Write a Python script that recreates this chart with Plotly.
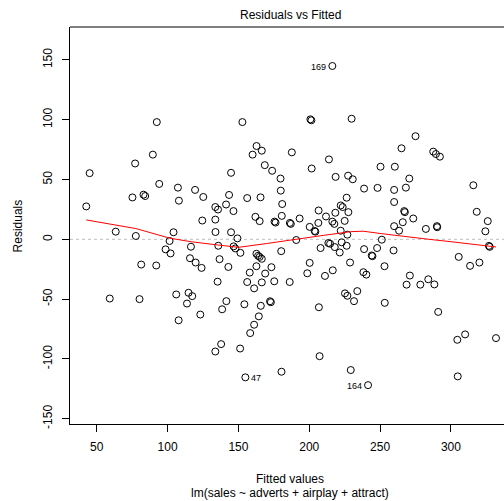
import plotly.graph_objects as go

# Fitted values and residuals of lm(sales ~ adverts + airplay + attract)
fitted = [
    92.4, 89.6, 77.1,
    216.3, 152.8, 200.8, 201.5, 229.9, 162.8, 160.0, 166.5, 187.7, 213.9,
    275.0, 265.1, 287.5, 289.4, 292.2, 250.3, 260.4,
    45.0, 94.1, 107.3, 119.4, 75.2, 83.0, 84.2, 125.2, 108.0, 42.6,
    124.5, 63.4, 77.6, 104.2, 101.4, 116.5, 98.6, 102.1, 115.8, 119.8,
    124.0, 81.4, 92.0, 59.2, 80.2, 106.1, 114.8, 117.4, 113.7,
    123.1, 107.8,
    141.5, 138.5, 154.2, 165.8, 172.3, 172.9, 206.8, 164.4, 161.1, 158.3,
    137.8, 133.7, 151.2, 154.9, 180.4, 207.3, 229.3,
    231.6, 253.3, 291.0, 304.5, 310.0, 331.8, 241.5, 304.8,
    168.6, 173.8, 201.7, 144.8, 179.7, 218.6, 227.4, 230.7, 179.9, 143.4,
    156.2, 165.6, 226.4, 141.3, 180.9, 133.7, 135.6, 146.5, 222.2, 223.6,
    227.6, 206.6, 162.0, 165.0, 180.6, 175.5, 176.2, 186.3, 187.0, 193.2,
    211.8, 218.4, 206.4, 216.3, 217.7, 225.0, 133.7, 200.3, 203.8, 204.3,
    133.8, 144.8, 149.3, 190.8, 226.9, 222.2, 135.8, 146.6, 147.8, 151.4,
    162.7, 163.9, 165.0, 166.5, 180.2, 208.0, 213.5, 214.7, 218.0, 221.5,
    222.9, 226.4, 136.7, 142.9, 162.7, 173.3, 200.3, 198.6, 216.6, 211.1,
    228.8, 158.0, 168.9, 135.3, 156.2, 166.5, 175.3, 186.2, 161.1, 225.2,
    226.9,
    270.6, 238.7, 248.2, 259.9, 268.2, 315.8, 259.9, 267.0, 267.5, 273.4,
    266.0, 259.9, 263.4, 282.3, 290.1, 290.3, 318.2, 326.0, 324.3, 326.8,
    327.4, 251.2, 247.9, 238.7, 244.1, 244.6, 259.5, 305.5, 313.5, 320.1,
    253.1, 238.2, 240.3, 271.0, 268.7, 278.4, 284.0, 288.3, 233.9,
]
residuals = [
    98.0, 70.8, 63.4,
    144.9, 98.0, 100.3, 99.5, 100.8, 78.0, 70.8, 74.1, 72.7, 66.8,
    86.2, 76.1, 73.3, 71.3, 69.1, 60.7, 60.7,
    55.3, 46.3, 43.2, 41.3, 35.0, 37.3, 36.2, 35.4, 32.3, 27.5,
    15.7, 6.4, 2.8, 5.9, -1.4, -6.2, -8.4, -11.8, -15.8, -19.4,
    -23.9, -21.1, -21.9, -49.5, -50.0, -46.1, -44.7, -47.5, -53.7,
    -62.9, -67.7,
    -51.7, -58.5, -54.3, -55.6, -51.8, -52.6, -56.8, -64.4, -71.4, -78.4,
    -87.6, -93.8, -91.3, -115.4, -110.7, -97.7, -109.3,
    -51.7, -53.1, -60.7, -84.0, -79.5, -82.6, -121.9, -114.6,
    62.0, 57.3, 59.2, 55.6, 50.8, 52.2, 53.2, 50.2, 40.7, 37.1,
    34.5, 35.1, 34.8, 29.1, 29.5, 27.0, 24.9, 23.6, 28.3, 27.0,
    22.7, 24.1, 18.8, 15.2, 19.6, 14.8, 14.0, 13.7, 12.9, 17.4,
    19.1, 22.2, 13.7, 14.8, 12.9, 15.4, 16.5, 10.4, 7.0, 6.4,
    6.1, 5.9, 0.8, -0.6, 3.9, 7.2, -5.4, -5.9, -7.6, -11.3,
    -12.1, -13.8, -14.7, -16.3, -9.9, -7.3, -3.1, -3.7, -6.5, -11.0,
    -2.5, -5.4, -16.6, -23.1, -22.5, -23.3, -19.7, -28.4, -25.9, -30.6,
    -19.4, -27.8, -28.6, -35.4, -35.7, -36.0, -35.1, -35.7, -41.0, -45.2,
    -47.2,
    50.8, 42.4, 43.0, 41.3, 43.2, 45.2, 31.2, 23.6, 22.7, 17.4,
    14.3, 11.0, 7.2, 8.7, 11.0, 10.1, 23.0, 15.2, 6.7, -5.5,
    -6.3, -0.3, -7.3, -8.2, -13.5, -14.1, -9.3, -14.7, -22.2, -19.4,
    -22.5, -27.5, -29.5, -30.3, -37.9, -37.9, -33.4, -37.7, -43.3,
]

# Smoother (red line)
smooth_x = [42.6, 63.4, 77.6, 101.4, 116.5, 133.7, 150.0, 170.0, 190.5, 210.0,
            229.3, 238.0, 251.2, 265.0, 282.3, 300.0, 315.0, 327.4, 331.8]
smooth_y = [16.2, 12.0, 9.0, 1.0, -2.0, -4.5, -6.7, -3.5, -0.3, 3.3,
            6.4, 6.8, 4.7, 2.5, 0.3, -2.0, -4.0, -5.9, -6.4]

# Labelled extreme observations
label_ids = ["169", "47", "164"]
label_x = [216.3, 154.9, 241.5]
label_y = [144.9, -115.4, -121.9]
label_side = ["left", "right", "left"]

x_ticks = [50, 100, 150, 200, 250, 300]
y_ticks = [-150, -100, -50, 0, 50, 100, 150]
y_ticktext = ["-150", "-100", "-50", "0", "50", "100", "150"]

FONT = "Liberation Sans, Arial, Helvetica, sans-serif"

fig = go.Figure()
fig.add_trace(go.Scatter(
    x=fitted, y=residuals, mode="markers",
    marker=dict(symbol="circle-open", size=7, color="black", line=dict(width=1, color="black")),
    hoverinfo="x+y", showlegend=False,
))
fig.add_trace(go.Scatter(
    x=smooth_x, y=smooth_y, mode="lines",
    line=dict(color="red", width=1), hoverinfo="skip", showlegend=False,
))

annotations = []
for lid, lx, ly, side in zip(label_ids, label_x, label_y, label_side):
    annotations.append(dict(
        x=lx, y=ly, xref="x", yref="y", text=lid, showarrow=False,
        xanchor="right" if side == "left" else "left",
        xshift=-4 if side == "left" else 4, yshift=-1,
        font=dict(family=FONT, size=9, color="black"),
    ))
annotations += [
    dict(text="Residuals vs Fitted", x=0.508, y=1.0302, xref="paper", yref="paper",
         showarrow=False, xanchor="center", yanchor="middle",
         font=dict(family=FONT, size=12, color="black")),
    dict(text="Fitted values", x=0.508, y=-0.1385, xref="paper", yref="paper",
         showarrow=False, xanchor="center", yanchor="middle",
         font=dict(family=FONT, size=12, color="black")),
    dict(text="lm(sales ~ adverts + airplay + attract)", x=0.508, y=-0.175,
         xref="paper", yref="paper", showarrow=False, xanchor="center", yanchor="middle",
         font=dict(family=FONT, size=12, color="black")),
    dict(text="Residuals", x=-0.12, y=0.5, xref="paper", yref="paper",
         showarrow=False, xanchor="center", yanchor="middle", textangle=-90,
         font=dict(family=FONT, size=12, color="black")),
]

fig.update_layout(
    width=504, height=501,
    margin=dict(l=70, r=0, t=27, b=77, pad=0),
    paper_bgcolor="white", plot_bgcolor="white",
    font=dict(family=FONT, size=12, color="black"),
    annotations=annotations,
    shapes=[
        dict(type="line", xref="paper", yref="y", x0=0, x1=1, y0=0, y1=0,
             line=dict(color="#BEBEBE", width=1, dash="dot"), layer="below"),
        dict(type="line", xref="paper", yref="paper", x0=0, x1=1, y0=1, y1=1,
             line=dict(color="black", width=1)),
    ],
    xaxis=dict(range=[31.13, 337.45], tickvals=x_ticks, ticks="outside", ticklen=7,
               tickcolor="black", tickwidth=1, showline=True, linecolor="black",
               linewidth=1, showgrid=False, zeroline=False, ticklabelstandoff=5,
               tickfont=dict(family=FONT, size=12, color="black")),
    yaxis=dict(range=[-154.4, 177.5], tickvals=y_ticks, ticktext=y_ticktext,
               ticks="outside", ticklen=7, tickcolor="black", tickwidth=1,
               showline=True, linecolor="black", linewidth=1, showgrid=False,
               zeroline=False, tickangle=-90, ticklabelstandoff=5,
               tickfont=dict(family=FONT, size=12, color="black")),
)

fig.write_html(
    "out.html",
    config={"displayModeBar": False},
    post_script="document.body.style.margin='0px';document.body.style.overflow='hidden';",
)
